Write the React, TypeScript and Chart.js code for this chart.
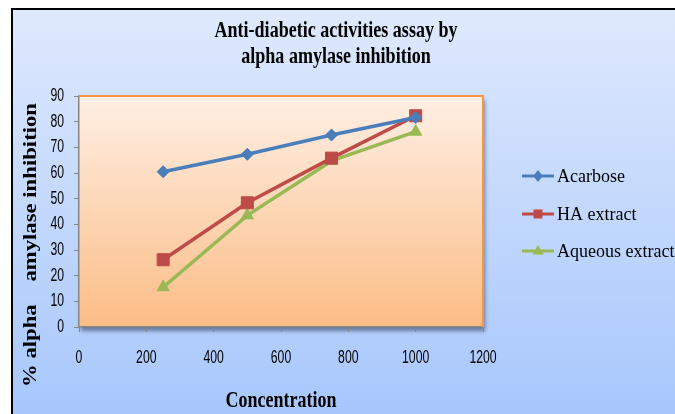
import { useEffect, useRef } from "react";
import { Chart, registerables } from "chart.js";

Chart.register(...registerables);

// ---- data ----
const concentrations = [250, 500, 750, 1000];
const acarbose = [60.5, 67.3, 74.8, 81.6];
const haExtract = [26.2, 48.4, 65.8, 82.3];
const aqueousExtract = [15.5, 43.5, 64.7, 76.1];
const seriesNames = ["Acarbose", "HA extract", "Aqueous extract"];
const seriesColors = ["#4a7ebb", "#be4b48", "#98b954"];
const seriesMarkers = ["rectRot", "rect", "triangle"];
const titleLines = ["Anti-diabetic activities assay by", "alpha amylase inhibition"];
const xAxisTitle = "Concentration";
const yAxisTitle = "% alpha    amylase inhibition";
const xMin = 0, xMax = 1200, xStep = 200;
const yMin = 0, yMax = 90, yStep = 10;

const SERIF = '"Liberation Serif", "Times New Roman", serif';
const SANS = '"Liberation Sans", Arial, sans-serif';

function drawMarker(ctx: CanvasRenderingContext2D, style: string, x: number, y: number, r: number) {
  ctx.beginPath();
  if (style === "rectRot") {
    ctx.moveTo(x, y - r);
    ctx.lineTo(x + r * 0.8, y);
    ctx.lineTo(x, y + r);
    ctx.lineTo(x - r * 0.8, y);
  } else if (style === "rect") {
    ctx.rect(x - r * 0.75, y - r * 0.75, r * 1.5, r * 1.5);
  } else {
    ctx.moveTo(x, y - r);
    ctx.lineTo(x + r * 0.95, y + r * 0.6);
    ctx.lineTo(x - r * 0.95, y + r * 0.6);
  }
  ctx.closePath();
  ctx.fill();
}

function fitText(ctx: CanvasRenderingContext2D, text: string, width: number) {
  const w = ctx.measureText(text).width;
  return width / w;
}

const backgroundPlugin = {
  id: "bgPlugin",
  beforeDraw(chart: any) {
    const ctx: CanvasRenderingContext2D = chart.ctx;
    const W = chart.width, H = chart.height;
    const a = chart.chartArea;
    ctx.save();
    ctx.fillStyle = "#ffffff";
    ctx.fillRect(0, 0, W, H);
    ctx.fillStyle = "#000000";
    ctx.fillRect(11, 8, W - 11, 2);
    ctx.fillRect(11, 8, 2, H - 8);
    const g = ctx.createLinearGradient(0, 10, 0, H);
    g.addColorStop(0, "#dfe9fd");
    g.addColorStop(1, "#a7c7fc");
    ctx.fillStyle = g;
    ctx.fillRect(13, 10, W - 13, H - 10);
    const pg = ctx.createLinearGradient(0, a.top, 0, a.bottom);
    pg.addColorStop(0, "#ffefe4");
    pg.addColorStop(1, "#fbbd86");
    ctx.shadowColor = "rgba(40,50,80,0.55)";
    ctx.shadowBlur = 4;
    ctx.shadowOffsetX = 2;
    ctx.shadowOffsetY = 4;
    ctx.fillStyle = pg;
    ctx.fillRect(a.left, a.top, a.right - a.left, a.bottom - a.top);
    ctx.restore();
  },
  beforeDatasetsDraw(chart: any) {
    const ctx: CanvasRenderingContext2D = chart.ctx;
    const a = chart.chartArea;
    ctx.save();
    ctx.strokeStyle = "#f79646";
    ctx.lineWidth = 2;
    ctx.beginPath();
    ctx.moveTo(a.left, a.top);
    ctx.lineTo(a.right, a.top);
    ctx.lineTo(a.right, a.bottom);
    ctx.stroke();
    ctx.restore();
  },
};

const textPlugin = {
  id: "textPlugin",
  afterDraw(chart: any) {
    const ctx: CanvasRenderingContext2D = chart.ctx;
    const a = chart.chartArea;
    ctx.save();
    ctx.fillStyle = "#000000";
    // tick labels (positions from the chart's scales)
    ctx.font = "18px " + SANS;
    ctx.textBaseline = "middle";
    const xs = chart.scales.x;
    ctx.textAlign = "center";
    xs.ticks.forEach((t: any) => {
      ctx.save();
      ctx.translate(xs.getPixelForValue(t.value), 358);
      ctx.scale(0.68, 1);
      ctx.fillText(String(t.value), 0, 0);
      ctx.restore();
    });
    const ys = chart.scales.y;
    ctx.textAlign = "right";
    ys.ticks.forEach((t: any) => {
      ctx.save();
      ctx.translate(64, ys.getPixelForValue(t.value));
      ctx.scale(0.68, 1);
      ctx.fillText(String(t.value), 0, 0);
      ctx.restore();
    });
    // title
    ctx.font = "bold 23px " + SERIF;
    ctx.textAlign = "center";
    ctx.textBaseline = "alphabetic";
    const s = fitText(ctx, titleLines[0], 243);
    const baselines = [37, 63];
    titleLines.forEach((line, i) => {
      ctx.save();
      ctx.translate(336, baselines[i]);
      ctx.scale(s, 1);
      ctx.fillText(line, 0, 0);
      ctx.restore();
    });
    // x title
    ctx.save();
    const sx = fitText(ctx, xAxisTitle, 111);
    ctx.translate((a.left + a.right) / 2, 407);
    ctx.scale(sx, 1);
    ctx.fillText(xAxisTitle, 0, 0);
    ctx.restore();
    // y title
    ctx.save();
    ctx.font = "bold 19px " + SERIF;
    const sy = fitText(ctx, yAxisTitle, 284);
    ctx.translate(36, 245);
    ctx.rotate(-Math.PI / 2);
    ctx.scale(sy, 1);
    ctx.fillText(yAxisTitle, 0, 0);
    ctx.restore();
    // legend
    const rows = [176, 214, 251];
    chart.data.datasets.forEach((ds: any, i: number) => {
      const y = rows[i];
      ctx.strokeStyle = ds.borderColor;
      ctx.fillStyle = ds.borderColor;
      ctx.lineWidth = 3;
      ctx.beginPath();
      ctx.moveTo(522, y);
      ctx.lineTo(554, y);
      ctx.stroke();
      drawMarker(ctx, ds.pointStyle, 538, y, 6);
      ctx.fillStyle = "#000000";
      ctx.font = "18px " + SERIF;
      ctx.textAlign = "left";
      ctx.textBaseline = "middle";
      ctx.fillText(ds.label, 557, y + 1);
    });
    ctx.restore();
  },
};

export default function App() {
  const ref = useRef<HTMLCanvasElement>(null);
  useEffect(() => {
    if (!ref.current) return;
    const seriesValues = [acarbose, haExtract, aqueousExtract];
    const radii = [6, 8.5, 7];
    const chart = new Chart(ref.current, {
      type: "line",
      data: {
        datasets: seriesValues.map((vals, i) => ({
          label: seriesNames[i],
          data: concentrations.map((x, j) => ({ x, y: vals[j] })),
          borderColor: seriesColors[i],
          backgroundColor: seriesColors[i],
          pointBackgroundColor: seriesColors[i],
          pointBorderColor: seriesColors[i],
          pointStyle: seriesMarkers[i] as any,
          pointRadius: radii[i],
          pointBorderWidth: 1,
          borderWidth: 3.5,
          tension: 0,
          fill: false,
        })),
      },
      options: {
        responsive: false,
        animation: false,
        devicePixelRatio: 1,
        layout: { padding: { top: 96, right: 192, left: 0, bottom: 0 } },
        plugins: { legend: { display: false }, title: { display: false }, tooltip: { enabled: false } },
        scales: {
          x: {
            type: "linear",
            min: xMin,
            max: xMax,
            ticks: { stepSize: xStep, display: false },
            grid: { drawOnChartArea: false, drawTicks: true, tickLength: 5, color: "#868686" },
            border: { color: "#868686", width: 1.5 },
            afterFit: (scale: any) => { scale.height = 87; },
          },
          y: {
            min: yMin,
            max: yMax,
            ticks: { stepSize: yStep, display: false },
            grid: { drawOnChartArea: false, drawTicks: true, tickLength: 5, color: "#868686" },
            border: { color: "#868686", width: 1.5 },
            afterFit: (scale: any) => { scale.width = 79; },
          },
        },
      },
      plugins: [backgroundPlugin, textPlugin],
    });
    return () => chart.destroy();
  }, []);
  return (
    <div style={{ position: "absolute", left: 0, top: 0, width: 675, height: 414 }}>
      <canvas ref={ref} width={675} height={414} />
    </div>
  );
}
